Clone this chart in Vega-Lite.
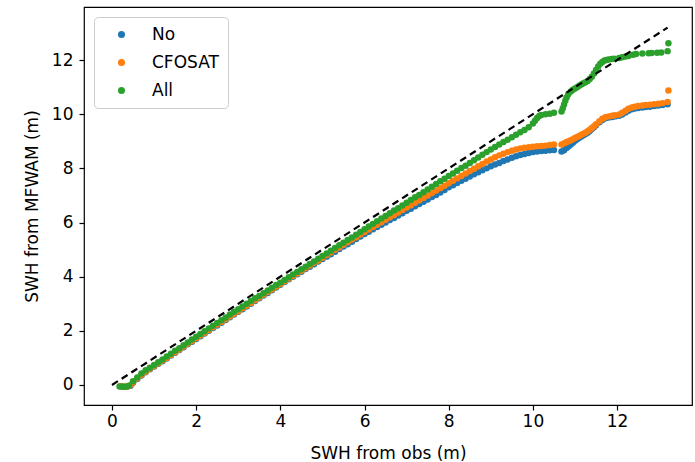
{
  "$schema": "https://vega.github.io/schema/vega-lite/v6.json",
  "width": 608,
  "height": 398,
  "autosize": "none",
  "padding": {"left": 84, "top": 7, "right": 3, "bottom": 57},
  "background": "white",
  "config": {
    "font": "DejaVu Sans",
    "view": {"stroke": "#000000", "strokeWidth": 1.2},
    "axis": {"grid": false, "domain": false, "tickColor": "#000000", "tickSize": 5, "tickWidth": 1.2, "labelColor": "#000000", "labelFontSize": 17, "titleColor": "#000000", "titleFontSize": 17, "titleFontWeight": "normal", "labelFont": "DejaVu Sans", "titleFont": "DejaVu Sans"}
  },
  "layer": [
    {
      "data": {"values": [
        {"run":"No","obs":0.22,"mfwam":-0.05},{"run":"No","obs":0.29,"mfwam":-0.07},{"run":"No","obs":0.36,"mfwam":-0.07},{"run":"No","obs":0.44,"mfwam":-0.03},
        {"run":"No","obs":0.5,"mfwam":0.08},{"run":"No","obs":0.6,"mfwam":0.22},{"run":"No","obs":0.7,"mfwam":0.35},{"run":"No","obs":0.8,"mfwam":0.47},{"run":"No","obs":0.9,"mfwam":0.58},{"run":"No","obs":1.0,"mfwam":0.68},
        {"run":"No","obs":1.1,"mfwam":0.78},{"run":"No","obs":1.2,"mfwam":0.88},{"run":"No","obs":1.3,"mfwam":0.98},{"run":"No","obs":1.4,"mfwam":1.09},{"run":"No","obs":1.5,"mfwam":1.19},{"run":"No","obs":1.6,"mfwam":1.29},{"run":"No","obs":1.7,"mfwam":1.39},{"run":"No","obs":1.8,"mfwam":1.5},{"run":"No","obs":1.9,"mfwam":1.6},{"run":"No","obs":2.0,"mfwam":1.7},
        {"run":"No","obs":2.1,"mfwam":1.8},{"run":"No","obs":2.2,"mfwam":1.9},{"run":"No","obs":2.3,"mfwam":2.0},{"run":"No","obs":2.4,"mfwam":2.1},{"run":"No","obs":2.5,"mfwam":2.2},{"run":"No","obs":2.6,"mfwam":2.3},{"run":"No","obs":2.7,"mfwam":2.4},{"run":"No","obs":2.8,"mfwam":2.5},{"run":"No","obs":2.9,"mfwam":2.6},{"run":"No","obs":3.0,"mfwam":2.7},
        {"run":"No","obs":3.1,"mfwam":2.8},{"run":"No","obs":3.2,"mfwam":2.9},{"run":"No","obs":3.3,"mfwam":3.0},{"run":"No","obs":3.4,"mfwam":3.1},{"run":"No","obs":3.5,"mfwam":3.2},{"run":"No","obs":3.6,"mfwam":3.3},{"run":"No","obs":3.7,"mfwam":3.4},{"run":"No","obs":3.8,"mfwam":3.5},{"run":"No","obs":3.9,"mfwam":3.6},{"run":"No","obs":4.0,"mfwam":3.7},
        {"run":"No","obs":4.1,"mfwam":3.8},{"run":"No","obs":4.2,"mfwam":3.9},{"run":"No","obs":4.3,"mfwam":4.0},{"run":"No","obs":4.4,"mfwam":4.09},{"run":"No","obs":4.5,"mfwam":4.18},{"run":"No","obs":4.6,"mfwam":4.28},{"run":"No","obs":4.7,"mfwam":4.37},{"run":"No","obs":4.8,"mfwam":4.46},{"run":"No","obs":4.9,"mfwam":4.56},{"run":"No","obs":5.0,"mfwam":4.65},
        {"run":"No","obs":5.1,"mfwam":4.74},{"run":"No","obs":5.2,"mfwam":4.83},{"run":"No","obs":5.3,"mfwam":4.92},{"run":"No","obs":5.4,"mfwam":5.02},{"run":"No","obs":5.5,"mfwam":5.11},{"run":"No","obs":5.6,"mfwam":5.2},{"run":"No","obs":5.7,"mfwam":5.29},{"run":"No","obs":5.8,"mfwam":5.39},{"run":"No","obs":5.9,"mfwam":5.48},{"run":"No","obs":6.0,"mfwam":5.58},
        {"run":"No","obs":6.1,"mfwam":5.66},{"run":"No","obs":6.2,"mfwam":5.75},{"run":"No","obs":6.3,"mfwam":5.83},{"run":"No","obs":6.4,"mfwam":5.92},{"run":"No","obs":6.5,"mfwam":6.0},{"run":"No","obs":6.6,"mfwam":6.09},{"run":"No","obs":6.7,"mfwam":6.17},{"run":"No","obs":6.8,"mfwam":6.26},{"run":"No","obs":6.9,"mfwam":6.34},{"run":"No","obs":7.0,"mfwam":6.43},
        {"run":"No","obs":7.1,"mfwam":6.51},{"run":"No","obs":7.2,"mfwam":6.6},{"run":"No","obs":7.3,"mfwam":6.68},{"run":"No","obs":7.4,"mfwam":6.77},{"run":"No","obs":7.5,"mfwam":6.85},{"run":"No","obs":7.6,"mfwam":6.94},{"run":"No","obs":7.7,"mfwam":7.02},{"run":"No","obs":7.8,"mfwam":7.11},{"run":"No","obs":7.9,"mfwam":7.2},{"run":"No","obs":8.0,"mfwam":7.3},
        {"run":"No","obs":8.1,"mfwam":7.38},{"run":"No","obs":8.2,"mfwam":7.46},{"run":"No","obs":8.3,"mfwam":7.54},{"run":"No","obs":8.4,"mfwam":7.62},{"run":"No","obs":8.5,"mfwam":7.7},{"run":"No","obs":8.6,"mfwam":7.78},{"run":"No","obs":8.7,"mfwam":7.86},{"run":"No","obs":8.8,"mfwam":7.93},{"run":"No","obs":8.9,"mfwam":8.0},{"run":"No","obs":9.0,"mfwam":8.08},
        {"run":"No","obs":9.1,"mfwam":8.14},{"run":"No","obs":9.2,"mfwam":8.2},{"run":"No","obs":9.3,"mfwam":8.27},{"run":"No","obs":9.4,"mfwam":8.33},{"run":"No","obs":9.5,"mfwam":8.39},{"run":"No","obs":9.6,"mfwam":8.45},{"run":"No","obs":9.7,"mfwam":8.49},{"run":"No","obs":9.8,"mfwam":8.53},{"run":"No","obs":9.9,"mfwam":8.57},{"run":"No","obs":10.0,"mfwam":8.6},
        {"run":"No","obs":10.1,"mfwam":8.62},{"run":"No","obs":10.2,"mfwam":8.64},{"run":"No","obs":10.3,"mfwam":8.65},{"run":"No","obs":10.4,"mfwam":8.67},{"run":"No","obs":10.5,"mfwam":8.68},
        {"run":"No","obs":10.68,"mfwam":8.62},{"run":"No","obs":10.74,"mfwam":8.67},{"run":"No","obs":10.8,"mfwam":8.75},{"run":"No","obs":10.85,"mfwam":8.82},{"run":"No","obs":10.9,"mfwam":8.88},{"run":"No","obs":10.95,"mfwam":8.95},{"run":"No","obs":11.0,"mfwam":9.02},{"run":"No","obs":11.05,"mfwam":9.08},{"run":"No","obs":11.1,"mfwam":9.13},{"run":"No","obs":11.15,"mfwam":9.18},{"run":"No","obs":11.2,"mfwam":9.22},{"run":"No","obs":11.25,"mfwam":9.27},{"run":"No","obs":11.3,"mfwam":9.32},{"run":"No","obs":11.35,"mfwam":9.38},{"run":"No","obs":11.4,"mfwam":9.45},{"run":"No","obs":11.45,"mfwam":9.52},{"run":"No","obs":11.5,"mfwam":9.59},{"run":"No","obs":11.58,"mfwam":9.7},{"run":"No","obs":11.65,"mfwam":9.79},{"run":"No","obs":11.72,"mfwam":9.85},{"run":"No","obs":11.8,"mfwam":9.88},{"run":"No","obs":11.88,"mfwam":9.9},{"run":"No","obs":11.95,"mfwam":9.92},{"run":"No","obs":12.05,"mfwam":9.94},{"run":"No","obs":12.12,"mfwam":9.99},{"run":"No","obs":12.2,"mfwam":10.06},{"run":"No","obs":12.27,"mfwam":10.13},{"run":"No","obs":12.35,"mfwam":10.18},{"run":"No","obs":12.42,"mfwam":10.21},{"run":"No","obs":12.5,"mfwam":10.23},{"run":"No","obs":12.6,"mfwam":10.25},{"run":"No","obs":12.68,"mfwam":10.27},{"run":"No","obs":12.78,"mfwam":10.28},{"run":"No","obs":12.88,"mfwam":10.3},{"run":"No","obs":12.98,"mfwam":10.32},{"run":"No","obs":13.08,"mfwam":10.34},{"run":"No","obs":13.2,"mfwam":10.37},
        {"run":"CFOSAT","obs":0.2,"mfwam":-0.05},{"run":"CFOSAT","obs":0.27,"mfwam":-0.07},{"run":"CFOSAT","obs":0.34,"mfwam":-0.07},{"run":"CFOSAT","obs":0.42,"mfwam":-0.03},
        {"run":"CFOSAT","obs":0.5,"mfwam":0.1},{"run":"CFOSAT","obs":0.6,"mfwam":0.24},{"run":"CFOSAT","obs":0.7,"mfwam":0.37},{"run":"CFOSAT","obs":0.8,"mfwam":0.49},{"run":"CFOSAT","obs":0.9,"mfwam":0.6},{"run":"CFOSAT","obs":1.0,"mfwam":0.7},
        {"run":"CFOSAT","obs":1.1,"mfwam":0.8},{"run":"CFOSAT","obs":1.2,"mfwam":0.9},{"run":"CFOSAT","obs":1.3,"mfwam":1.0},{"run":"CFOSAT","obs":1.4,"mfwam":1.11},{"run":"CFOSAT","obs":1.5,"mfwam":1.21},{"run":"CFOSAT","obs":1.6,"mfwam":1.31},{"run":"CFOSAT","obs":1.7,"mfwam":1.42},{"run":"CFOSAT","obs":1.8,"mfwam":1.52},{"run":"CFOSAT","obs":1.9,"mfwam":1.62},{"run":"CFOSAT","obs":2.0,"mfwam":1.73},
        {"run":"CFOSAT","obs":2.1,"mfwam":1.83},{"run":"CFOSAT","obs":2.2,"mfwam":1.93},{"run":"CFOSAT","obs":2.3,"mfwam":2.03},{"run":"CFOSAT","obs":2.4,"mfwam":2.13},{"run":"CFOSAT","obs":2.5,"mfwam":2.23},{"run":"CFOSAT","obs":2.6,"mfwam":2.33},{"run":"CFOSAT","obs":2.7,"mfwam":2.43},{"run":"CFOSAT","obs":2.8,"mfwam":2.53},{"run":"CFOSAT","obs":2.9,"mfwam":2.63},{"run":"CFOSAT","obs":3.0,"mfwam":2.73},
        {"run":"CFOSAT","obs":3.1,"mfwam":2.83},{"run":"CFOSAT","obs":3.2,"mfwam":2.93},{"run":"CFOSAT","obs":3.3,"mfwam":3.03},{"run":"CFOSAT","obs":3.4,"mfwam":3.13},{"run":"CFOSAT","obs":3.5,"mfwam":3.23},{"run":"CFOSAT","obs":3.6,"mfwam":3.33},{"run":"CFOSAT","obs":3.7,"mfwam":3.43},{"run":"CFOSAT","obs":3.8,"mfwam":3.53},{"run":"CFOSAT","obs":3.9,"mfwam":3.63},{"run":"CFOSAT","obs":4.0,"mfwam":3.73},
        {"run":"CFOSAT","obs":4.1,"mfwam":3.83},{"run":"CFOSAT","obs":4.2,"mfwam":3.93},{"run":"CFOSAT","obs":4.3,"mfwam":4.02},{"run":"CFOSAT","obs":4.4,"mfwam":4.12},{"run":"CFOSAT","obs":4.5,"mfwam":4.22},{"run":"CFOSAT","obs":4.6,"mfwam":4.31},{"run":"CFOSAT","obs":4.7,"mfwam":4.41},{"run":"CFOSAT","obs":4.8,"mfwam":4.51},{"run":"CFOSAT","obs":4.9,"mfwam":4.6},{"run":"CFOSAT","obs":5.0,"mfwam":4.7},
        {"run":"CFOSAT","obs":5.1,"mfwam":4.8},{"run":"CFOSAT","obs":5.2,"mfwam":4.89},{"run":"CFOSAT","obs":5.3,"mfwam":4.99},{"run":"CFOSAT","obs":5.4,"mfwam":5.08},{"run":"CFOSAT","obs":5.5,"mfwam":5.18},{"run":"CFOSAT","obs":5.6,"mfwam":5.27},{"run":"CFOSAT","obs":5.7,"mfwam":5.37},{"run":"CFOSAT","obs":5.8,"mfwam":5.46},{"run":"CFOSAT","obs":5.9,"mfwam":5.56},{"run":"CFOSAT","obs":6.0,"mfwam":5.65},
        {"run":"CFOSAT","obs":6.1,"mfwam":5.74},{"run":"CFOSAT","obs":6.2,"mfwam":5.83},{"run":"CFOSAT","obs":6.3,"mfwam":5.92},{"run":"CFOSAT","obs":6.4,"mfwam":6.01},{"run":"CFOSAT","obs":6.5,"mfwam":6.1},{"run":"CFOSAT","obs":6.6,"mfwam":6.19},{"run":"CFOSAT","obs":6.7,"mfwam":6.28},{"run":"CFOSAT","obs":6.8,"mfwam":6.37},{"run":"CFOSAT","obs":6.9,"mfwam":6.46},{"run":"CFOSAT","obs":7.0,"mfwam":6.55},
        {"run":"CFOSAT","obs":7.1,"mfwam":6.64},{"run":"CFOSAT","obs":7.2,"mfwam":6.73},{"run":"CFOSAT","obs":7.3,"mfwam":6.82},{"run":"CFOSAT","obs":7.4,"mfwam":6.91},{"run":"CFOSAT","obs":7.5,"mfwam":7.0},{"run":"CFOSAT","obs":7.6,"mfwam":7.09},{"run":"CFOSAT","obs":7.7,"mfwam":7.18},{"run":"CFOSAT","obs":7.8,"mfwam":7.27},{"run":"CFOSAT","obs":7.9,"mfwam":7.36},{"run":"CFOSAT","obs":8.0,"mfwam":7.45},
        {"run":"CFOSAT","obs":8.1,"mfwam":7.54},{"run":"CFOSAT","obs":8.2,"mfwam":7.63},{"run":"CFOSAT","obs":8.3,"mfwam":7.72},{"run":"CFOSAT","obs":8.4,"mfwam":7.81},{"run":"CFOSAT","obs":8.5,"mfwam":7.9},{"run":"CFOSAT","obs":8.6,"mfwam":7.99},{"run":"CFOSAT","obs":8.7,"mfwam":8.08},{"run":"CFOSAT","obs":8.8,"mfwam":8.16},{"run":"CFOSAT","obs":8.9,"mfwam":8.25},{"run":"CFOSAT","obs":9.0,"mfwam":8.33},
        {"run":"CFOSAT","obs":9.1,"mfwam":8.41},{"run":"CFOSAT","obs":9.2,"mfwam":8.48},{"run":"CFOSAT","obs":9.3,"mfwam":8.54},{"run":"CFOSAT","obs":9.4,"mfwam":8.6},{"run":"CFOSAT","obs":9.5,"mfwam":8.65},{"run":"CFOSAT","obs":9.6,"mfwam":8.7},{"run":"CFOSAT","obs":9.7,"mfwam":8.73},{"run":"CFOSAT","obs":9.8,"mfwam":8.76},{"run":"CFOSAT","obs":9.9,"mfwam":8.78},{"run":"CFOSAT","obs":10.0,"mfwam":8.8},
        {"run":"CFOSAT","obs":10.1,"mfwam":8.82},{"run":"CFOSAT","obs":10.2,"mfwam":8.83},{"run":"CFOSAT","obs":10.3,"mfwam":8.84},{"run":"CFOSAT","obs":10.4,"mfwam":8.86},{"run":"CFOSAT","obs":10.5,"mfwam":8.88},
        {"run":"CFOSAT","obs":10.68,"mfwam":8.88},{"run":"CFOSAT","obs":10.75,"mfwam":8.93},{"run":"CFOSAT","obs":10.8,"mfwam":8.97},{"run":"CFOSAT","obs":10.85,"mfwam":9.0},{"run":"CFOSAT","obs":10.9,"mfwam":9.04},{"run":"CFOSAT","obs":10.95,"mfwam":9.08},{"run":"CFOSAT","obs":11.0,"mfwam":9.12},{"run":"CFOSAT","obs":11.05,"mfwam":9.16},{"run":"CFOSAT","obs":11.1,"mfwam":9.2},{"run":"CFOSAT","obs":11.15,"mfwam":9.24},{"run":"CFOSAT","obs":11.2,"mfwam":9.28},{"run":"CFOSAT","obs":11.25,"mfwam":9.32},{"run":"CFOSAT","obs":11.3,"mfwam":9.37},{"run":"CFOSAT","obs":11.35,"mfwam":9.43},{"run":"CFOSAT","obs":11.4,"mfwam":9.49},{"run":"CFOSAT","obs":11.45,"mfwam":9.56},{"run":"CFOSAT","obs":11.5,"mfwam":9.63},{"run":"CFOSAT","obs":11.58,"mfwam":9.74},{"run":"CFOSAT","obs":11.65,"mfwam":9.83},{"run":"CFOSAT","obs":11.72,"mfwam":9.89},{"run":"CFOSAT","obs":11.8,"mfwam":9.92},{"run":"CFOSAT","obs":11.88,"mfwam":9.94},{"run":"CFOSAT","obs":11.95,"mfwam":9.96},{"run":"CFOSAT","obs":12.05,"mfwam":9.99},{"run":"CFOSAT","obs":12.12,"mfwam":10.05},{"run":"CFOSAT","obs":12.2,"mfwam":10.13},{"run":"CFOSAT","obs":12.27,"mfwam":10.2},{"run":"CFOSAT","obs":12.35,"mfwam":10.25},{"run":"CFOSAT","obs":12.42,"mfwam":10.28},{"run":"CFOSAT","obs":12.5,"mfwam":10.3},{"run":"CFOSAT","obs":12.6,"mfwam":10.32},{"run":"CFOSAT","obs":12.68,"mfwam":10.34},{"run":"CFOSAT","obs":12.78,"mfwam":10.35},{"run":"CFOSAT","obs":12.88,"mfwam":10.37},{"run":"CFOSAT","obs":12.98,"mfwam":10.39},{"run":"CFOSAT","obs":13.08,"mfwam":10.41},{"run":"CFOSAT","obs":13.2,"mfwam":10.45},{"run":"CFOSAT","obs":13.22,"mfwam":10.88},
        {"run":"All","obs":0.18,"mfwam":-0.06},{"run":"All","obs":0.25,"mfwam":-0.07},{"run":"All","obs":0.32,"mfwam":-0.07},{"run":"All","obs":0.4,"mfwam":-0.03},
        {"run":"All","obs":0.5,"mfwam":0.14},{"run":"All","obs":0.6,"mfwam":0.28},{"run":"All","obs":0.7,"mfwam":0.42},{"run":"All","obs":0.8,"mfwam":0.54},{"run":"All","obs":0.9,"mfwam":0.64},{"run":"All","obs":1.0,"mfwam":0.74},
        {"run":"All","obs":1.1,"mfwam":0.84},{"run":"All","obs":1.2,"mfwam":0.94},{"run":"All","obs":1.3,"mfwam":1.05},{"run":"All","obs":1.4,"mfwam":1.15},{"run":"All","obs":1.5,"mfwam":1.26},{"run":"All","obs":1.6,"mfwam":1.36},{"run":"All","obs":1.7,"mfwam":1.47},{"run":"All","obs":1.8,"mfwam":1.57},{"run":"All","obs":1.9,"mfwam":1.68},{"run":"All","obs":2.0,"mfwam":1.78},
        {"run":"All","obs":2.1,"mfwam":1.88},{"run":"All","obs":2.2,"mfwam":1.98},{"run":"All","obs":2.3,"mfwam":2.09},{"run":"All","obs":2.4,"mfwam":2.19},{"run":"All","obs":2.5,"mfwam":2.29},{"run":"All","obs":2.6,"mfwam":2.39},{"run":"All","obs":2.7,"mfwam":2.49},{"run":"All","obs":2.8,"mfwam":2.6},{"run":"All","obs":2.9,"mfwam":2.7},{"run":"All","obs":3.0,"mfwam":2.8},
        {"run":"All","obs":3.1,"mfwam":2.9},{"run":"All","obs":3.2,"mfwam":3.0},{"run":"All","obs":3.3,"mfwam":3.1},{"run":"All","obs":3.4,"mfwam":3.2},{"run":"All","obs":3.5,"mfwam":3.29},{"run":"All","obs":3.6,"mfwam":3.39},{"run":"All","obs":3.7,"mfwam":3.49},{"run":"All","obs":3.8,"mfwam":3.59},{"run":"All","obs":3.9,"mfwam":3.69},{"run":"All","obs":4.0,"mfwam":3.78},
        {"run":"All","obs":4.1,"mfwam":3.88},{"run":"All","obs":4.2,"mfwam":3.98},{"run":"All","obs":4.3,"mfwam":4.08},{"run":"All","obs":4.4,"mfwam":4.17},{"run":"All","obs":4.5,"mfwam":4.27},{"run":"All","obs":4.6,"mfwam":4.37},{"run":"All","obs":4.7,"mfwam":4.47},{"run":"All","obs":4.8,"mfwam":4.56},{"run":"All","obs":4.9,"mfwam":4.66},{"run":"All","obs":5.0,"mfwam":4.76},
        {"run":"All","obs":5.1,"mfwam":4.86},{"run":"All","obs":5.2,"mfwam":4.96},{"run":"All","obs":5.3,"mfwam":5.06},{"run":"All","obs":5.4,"mfwam":5.16},{"run":"All","obs":5.5,"mfwam":5.25},{"run":"All","obs":5.6,"mfwam":5.35},{"run":"All","obs":5.7,"mfwam":5.45},{"run":"All","obs":5.8,"mfwam":5.55},{"run":"All","obs":5.9,"mfwam":5.65},{"run":"All","obs":6.0,"mfwam":5.75},
        {"run":"All","obs":6.1,"mfwam":5.85},{"run":"All","obs":6.2,"mfwam":5.95},{"run":"All","obs":6.3,"mfwam":6.05},{"run":"All","obs":6.4,"mfwam":6.15},{"run":"All","obs":6.5,"mfwam":6.24},{"run":"All","obs":6.6,"mfwam":6.34},{"run":"All","obs":6.7,"mfwam":6.44},{"run":"All","obs":6.8,"mfwam":6.53},{"run":"All","obs":6.9,"mfwam":6.63},{"run":"All","obs":7.0,"mfwam":6.73},
        {"run":"All","obs":7.1,"mfwam":6.83},{"run":"All","obs":7.2,"mfwam":6.93},{"run":"All","obs":7.3,"mfwam":7.02},{"run":"All","obs":7.4,"mfwam":7.12},{"run":"All","obs":7.5,"mfwam":7.22},{"run":"All","obs":7.6,"mfwam":7.32},{"run":"All","obs":7.7,"mfwam":7.42},{"run":"All","obs":7.8,"mfwam":7.52},{"run":"All","obs":7.9,"mfwam":7.62},{"run":"All","obs":8.0,"mfwam":7.72},
        {"run":"All","obs":8.1,"mfwam":7.81},{"run":"All","obs":8.2,"mfwam":7.91},{"run":"All","obs":8.3,"mfwam":8.01},{"run":"All","obs":8.4,"mfwam":8.1},{"run":"All","obs":8.5,"mfwam":8.2},{"run":"All","obs":8.6,"mfwam":8.3},{"run":"All","obs":8.7,"mfwam":8.4},{"run":"All","obs":8.8,"mfwam":8.5},{"run":"All","obs":8.9,"mfwam":8.6},{"run":"All","obs":9.0,"mfwam":8.7},
        {"run":"All","obs":9.1,"mfwam":8.79},{"run":"All","obs":9.2,"mfwam":8.88},{"run":"All","obs":9.3,"mfwam":8.97},{"run":"All","obs":9.4,"mfwam":9.06},{"run":"All","obs":9.5,"mfwam":9.15},{"run":"All","obs":9.6,"mfwam":9.24},{"run":"All","obs":9.7,"mfwam":9.33},{"run":"All","obs":9.8,"mfwam":9.42},{"run":"All","obs":9.9,"mfwam":9.52},{"run":"All","obs":10.0,"mfwam":9.66},
        {"run":"All","obs":10.05,"mfwam":9.76},{"run":"All","obs":10.1,"mfwam":9.86},{"run":"All","obs":10.15,"mfwam":9.93},{"run":"All","obs":10.2,"mfwam":9.97},{"run":"All","obs":10.3,"mfwam":10.0},{"run":"All","obs":10.4,"mfwam":10.02},{"run":"All","obs":10.5,"mfwam":10.05},
        {"run":"All","obs":10.68,"mfwam":10.1},{"run":"All","obs":10.71,"mfwam":10.22},{"run":"All","obs":10.74,"mfwam":10.36},{"run":"All","obs":10.77,"mfwam":10.5},{"run":"All","obs":10.8,"mfwam":10.62},{"run":"All","obs":10.84,"mfwam":10.74},{"run":"All","obs":10.9,"mfwam":10.84},{"run":"All","obs":10.95,"mfwam":10.9},{"run":"All","obs":11.0,"mfwam":10.95},{"run":"All","obs":11.05,"mfwam":11.0},{"run":"All","obs":11.1,"mfwam":11.05},{"run":"All","obs":11.15,"mfwam":11.1},{"run":"All","obs":11.2,"mfwam":11.14},{"run":"All","obs":11.25,"mfwam":11.18},{"run":"All","obs":11.3,"mfwam":11.23},{"run":"All","obs":11.35,"mfwam":11.3},{"run":"All","obs":11.4,"mfwam":11.38},{"run":"All","obs":11.45,"mfwam":11.5},{"run":"All","obs":11.5,"mfwam":11.63},{"run":"All","obs":11.55,"mfwam":11.76},{"run":"All","obs":11.6,"mfwam":11.86},{"run":"All","obs":11.65,"mfwam":11.93},{"run":"All","obs":11.7,"mfwam":11.98},{"run":"All","obs":11.75,"mfwam":12.0},{"run":"All","obs":11.8,"mfwam":12.02},{"run":"All","obs":11.87,"mfwam":12.04},{"run":"All","obs":11.93,"mfwam":12.05},{"run":"All","obs":12.05,"mfwam":12.08},{"run":"All","obs":12.12,"mfwam":12.1},{"run":"All","obs":12.2,"mfwam":12.13},{"run":"All","obs":12.27,"mfwam":12.15},{"run":"All","obs":12.38,"mfwam":12.2},{"run":"All","obs":12.45,"mfwam":12.22},{"run":"All","obs":12.6,"mfwam":12.24},{"run":"All","obs":12.75,"mfwam":12.25},{"run":"All","obs":12.82,"mfwam":12.26},{"run":"All","obs":12.95,"mfwam":12.27},{"run":"All","obs":13.05,"mfwam":12.28},{"run":"All","obs":13.2,"mfwam":12.33},{"run":"All","obs":13.22,"mfwam":12.62}
      ]},
      "mark": {"type": "point", "filled": true, "opacity": 1, "size": 42, "strokeWidth": 0},
      "encoding": {
        "x": {"field": "obs", "type": "quantitative", "title": "SWH from obs (m)",
              "scale": {"domain": [-0.665, 13.78], "nice": false, "zero": false},
              "axis": {"values": [0, 2, 4, 6, 8, 10, 12], "labelPadding": 3, "titlePadding": 16, "labelFlush": false}},
        "y": {"field": "mfwam", "type": "quantitative", "title": "SWH from MFWAM (m)",
              "scale": {"domain": [-0.74, 13.96], "nice": false, "zero": false},
              "axis": {"values": [0, 2, 4, 6, 8, 10, 12], "labelPadding": 6, "titlePadding": 10, "labelFlush": false}},
        "color": {"field": "run", "type": "nominal",
                  "scale": {"domain": ["No", "CFOSAT", "All"], "range": ["#1f77b4", "#ff7f0e", "#2ca02c"]},
                  "legend": {"title": null, "orient": "none", "legendX": 10, "legendY": 10, "fillColor": "white", "strokeColor": "#cccccc", "cornerRadius": 4, "padding": 9, "labelFontSize": 17, "labelColor": "#000000", "symbolSize": 50, "symbolType": "circle", "rowPadding": 10, "labelOffset": 22, "symbolOffset": 10, "symbolStrokeWidth": 0}}
      }
    },
    {
      "data": {"values": [{"obs": 0, "mfwam": 0}, {"obs": 13.2, "mfwam": 13.2}]},
      "mark": {"type": "line", "color": "#000000", "strokeWidth": 2.2, "strokeDash": [7, 4.5]},
      "encoding": {
        "x": {"field": "obs", "type": "quantitative"},
        "y": {"field": "mfwam", "type": "quantitative"}
      }
    }
  ]
}
